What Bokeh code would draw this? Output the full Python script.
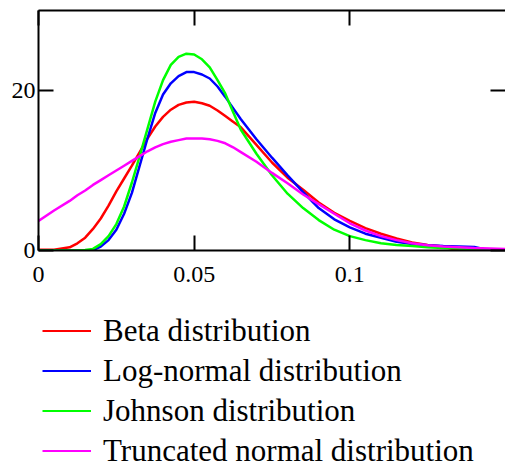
from bokeh.plotting import figure
from bokeh.layouts import column
from bokeh.models import LinearAxis, FixedTicker, Range1d, Legend, LegendItem, ColumnDataSource
from bokeh.embed import file_html
from bokeh.resources import INLINE

x = [0.000, 0.005, 0.010, 0.0125, 0.015, 0.0175, 0.020, 0.0225, 0.025, 0.0275,
     0.030, 0.0325, 0.035, 0.0375, 0.040, 0.0425, 0.045, 0.0475, 0.050, 0.0525,
     0.055, 0.0575, 0.060, 0.0625, 0.065, 0.070, 0.075, 0.080, 0.085, 0.090,
     0.095, 0.100, 0.105, 0.110, 0.115, 0.120, 0.125, 0.130, 0.135, 0.140,
     0.145, 0.150]

beta = [0.1, 0.1, 0.4, 0.9, 1.6, 2.7, 4.0, 5.6, 7.4, 9.0,
        10.6, 12.3, 14.0, 15.5, 16.7, 17.6, 18.2, 18.5, 18.6, 18.4,
        18.1, 17.5, 16.8, 16.1, 15.4, 13.2, 11.0, 9.1, 7.6, 6.0,
        4.7, 3.7, 2.8, 2.1, 1.5, 1.0, 0.7, 0.5, None, None,
        None, None]

lognormal = [0.0, 0.0, 0.0, 0.0, 0.0, 0.05, 0.5, 1.3, 2.6, 4.6,
             7.2, 10.6, 14.0, 17.2, 19.5, 20.9, 21.8, 22.3, 22.3, 22.0,
             21.5, 20.5, 19.2, 17.8, 16.4, 13.9, 11.6, 9.4, 7.3, 5.3,
             3.9, 2.9, 2.1, 1.6, 1.1, 0.8, 0.65, 0.55, 0.5, 0.45,
             None, None]

johnson = [0.0, 0.0, 0.0, 0.0, 0.05, 0.2, 0.8, 1.8, 3.3, 5.5,
           8.5, 11.8, 15.2, 18.6, 21.3, 23.2, 24.2, 24.6, 24.5, 23.9,
           22.9, 21.3, 19.6, 17.3, 15.1, 12.1, 9.4, 7.1, 5.3, 3.8,
           2.6, 1.8, 1.3, 0.9, 0.7, 0.55, 0.4, 0.3, 0.25, None,
           None, None]

truncnormal = [3.7, 5.0, 6.2, 6.9, 7.5, 8.2, 8.8, 9.4, 10.0, 10.6,
               11.2, 11.8, 12.4, 12.9, 13.3, 13.6, 13.8, 14.0, 14.0, 14.0,
               13.9, 13.7, 13.4, 12.9, 12.3, 11.1, 9.7, 8.4, 7.0, 5.8,
               4.6, 3.4, 2.5, 1.8, 1.3, 0.9, 0.65, 0.5, 0.4, 0.3,
               0.25, 0.2]

series_names = ["Beta distribution", "Log-normal distribution",
                "Johnson distribution", "Truncated normal distribution"]
series_colors = ["#FF0000", "#0000FF", "#00FF00", "#FF00FF"]

x_ticks = [0, 0.05, 0.1]
x_tick_labels = ["0", "0.05", "0.1"]
y_ticks = [0, 20]
y_tick_labels = ["0", "20"]

FONT = "Liberation Serif"

p = figure(width=505, height=290, output_backend="svg", toolbar_location=None,
           x_range=Range1d(0, 0.15), y_range=Range1d(0, 30),
           x_axis_location=None, y_axis_location=None,
           min_border_left=38, min_border_right=0, min_border_top=10,
           min_border_bottom=40)
p.grid.visible = False
p.outline_line_color = None
p.background_fill_color = "white"
p.border_fill_color = "white"


def style_axis(ax, ticks, labels, show_labels=True, show_line=True):
    ax.ticker = FixedTicker(ticks=ticks)
    ax.major_label_overrides = {t: l for t, l in zip(ticks, labels)}
    ax.minor_tick_line_color = None
    ax.major_tick_in = 15
    ax.major_tick_out = 0
    ax.major_tick_line_width = 2
    ax.major_tick_line_color = "black"
    ax.axis_line_width = 2
    ax.axis_line_color = "black" if show_line else None
    ax.major_label_text_font = FONT
    ax.major_label_text_color = "black"
    if show_labels:
        ax.major_label_text_font_size = "24px"
    else:
        ax.major_label_text_font_size = "0px"
        ax.major_label_standoff = 0


bottom = LinearAxis()
style_axis(bottom, x_ticks, x_tick_labels)
bottom.major_label_standoff = 16
p.add_layout(bottom, "below")

left = LinearAxis()
style_axis(left, y_ticks, y_tick_labels)
left.major_label_standoff = 3
p.add_layout(left, "left")

top = LinearAxis()
style_axis(top, x_ticks, ["", "", ""], show_labels=False)
p.add_layout(top, "above")

right = LinearAxis()
style_axis(right, y_ticks, ["", ""], show_labels=False, show_line=False)
p.add_layout(right, "right")

src = ColumnDataSource(dict(x=x, beta=beta, lognormal=lognormal,
                            johnson=johnson, truncnormal=truncnormal))
cols = ["beta", "lognormal", "johnson", "truncnormal"]
for col, color in zip(cols, series_colors):
    p.line("x", col, source=src, line_color=color, line_width=2.5)

# legend panel below the chart
q = figure(width=505, height=179, output_backend="svg", toolbar_location=None,
           x_range=Range1d(0, 1), y_range=Range1d(0, 1),
           x_axis_location=None, y_axis_location=None, min_border=0)
q.grid.visible = False
q.outline_line_color = None
q.background_fill_color = "white"
q.border_fill_color = "white"

nan = float("nan")
items = []
for name, color in zip(series_names, series_colors):
    swatch = q.line([nan], [nan], line_color=color, line_width=2)
    items.append(LegendItem(label=name, renderers=[swatch]))

legend = Legend(items=items, location=(4, 0), orientation="vertical",
                label_text_font=FONT, label_text_font_size="31px",
                label_text_color="black", glyph_width=49, glyph_height=37,
                label_height=37, label_standoff=12, spacing=3, padding=0,
                margin=0, border_line_color=None, background_fill_alpha=0)
q.add_layout(legend, "center")

layout = column(p, q, spacing=0)
open("out.html", "w").write(file_html(layout, INLINE))
